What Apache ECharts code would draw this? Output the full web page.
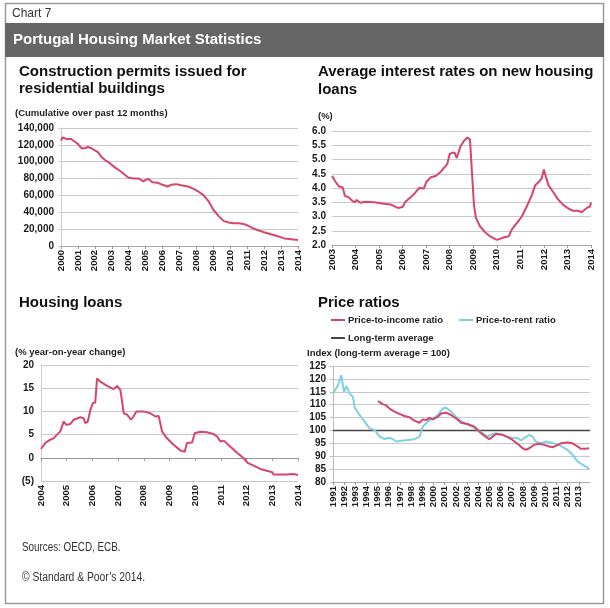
<!DOCTYPE html>
<html>
<head>
<meta charset="utf-8">
<script src="https://cdn.jsdelivr.net/npm/echarts@6/dist/echarts.min.js"></script>
<style>
html,body{margin:0;padding:0;background:#fff;}
#c{width:610px;height:608px;}
</style>
</head>
<body>
<div id="c"></div>
<script>
// ---- Data ----
const permitsYears = [2000.0,2000.1,2000.3,2000.6,2000.8,2001.0,2001.2,2001.4,2001.6,2001.8,2002.0,2002.2,2002.4,2002.6,2002.9,2003.2,2003.5,2003.8,2004.0,2004.3,2004.6,2004.87,2005.0,2005.17,2005.4,2005.7,2006.0,2006.3,2006.5,2006.8,2007.1,2007.5,2007.8,2008.1,2008.4,2008.7,2009.0,2009.3,2009.6,2009.9,2010.2,2010.5,2010.8,2011.0,2011.3,2011.6,2012.0,2012.4,2012.8,2013.2,2013.6,2014.0];
const permitsValues = [125000,129000,127000,127000,124000,121000,116000,116000,117500,116000,113500,111000,105500,102000,98000,93000,89000,84000,81000,80000,80000,76500,78500,79500,75500,75000,72600,70600,72600,73400,72000,70600,68000,64700,60700,53600,43000,35700,29800,27800,27000,27000,26000,24600,21400,19000,16300,14000,11500,9000,8000,7000];

const rateYears = [2003.0,2003.15,2003.3,2003.45,2003.55,2003.7,2003.85,2003.95,2004.05,2004.2,2004.4,2004.8,2005.2,2005.5,2005.8,2006.0,2006.1,2006.3,2006.5,2006.7,2006.9,2007.0,2007.2,2007.4,2007.6,2007.8,2007.9,2008.0,2008.2,2008.3,2008.45,2008.6,2008.75,2008.86,2008.94,2009.03,2009.11,2009.29,2009.5,2009.72,2010.0,2010.35,2010.5,2010.64,2010.78,2010.92,2011.06,2011.27,2011.49,2011.63,2011.77,2011.91,2011.97,2012.0,2012.08,2012.19,2012.4,2012.6,2012.83,2013.04,2013.24,2013.46,2013.6,2013.67,2013.82,2013.96,2014.0];
const rateValues = [4.42,4.22,4.05,4.03,3.72,3.68,3.56,3.5,3.58,3.48,3.52,3.5,3.45,3.42,3.3,3.33,3.5,3.65,3.8,4.0,3.98,4.2,4.38,4.42,4.55,4.75,4.85,5.2,5.25,5.05,5.45,5.65,5.77,5.7,4.6,3.4,2.95,2.65,2.45,2.3,2.18,2.28,2.3,2.55,2.7,2.85,3.0,3.35,3.75,4.1,4.2,4.35,4.3,4.65,4.4,4.1,3.85,3.6,3.4,3.28,3.2,3.2,3.15,3.22,3.3,3.35,3.5];

const loanYears = [2004.0,2004.17,2004.36,2004.49,2004.62,2004.75,2004.88,2004.99,2005.14,2005.27,2005.53,2005.66,2005.72,2005.82,2005.92,2006.02,2006.11,2006.18,2006.31,2006.57,2006.83,2006.96,2007.09,2007.22,2007.35,2007.5,2007.6,2007.71,2007.99,2008.25,2008.45,2008.58,2008.71,2008.9,2009.16,2009.42,2009.59,2009.68,2009.88,2009.98,2010.2,2010.46,2010.72,2010.85,2010.98,2011.11,2011.37,2011.63,2011.89,2012.04,2012.27,2012.53,2012.79,2013.0,2013.05,2013.18,2013.57,2013.83,2014.0];
const loanValues = [1.9,3.2,3.9,4.2,5.0,5.7,7.8,7.1,7.3,8.2,8.75,8.5,7.5,7.8,10.3,11.8,11.9,17.1,16.4,15.5,14.8,15.5,14.6,9.6,9.3,8.2,8.9,10.0,10.0,9.6,8.9,9.0,5.7,4.2,2.8,1.6,1.3,3.2,3.3,5.3,5.6,5.5,5.1,4.6,3.5,3.7,2.4,1.1,-0.1,-1.1,-1.7,-2.4,-2.8,-3.1,-3.6,-3.6,-3.6,-3.5,-3.7];

const rentYears = [1991.0,1991.45,1991.74,1991.98,1992.19,1992.49,1992.79,1992.93,1993.38,1993.83,1994.27,1994.72,1995.17,1995.61,1996.06,1996.36,1996.65,1997.1,1997.7,1998.29,1998.74,1999.04,1999.48,1999.93,2000.38,2000.82,2001.12,2001.57,2002.16,2002.76,2003.35,2003.95,2004.4,2004.84,2005.14,2005.58,2006.18,2006.63,2007.07,2007.52,2007.82,2008.11,2008.56,2008.86,2009.15,2009.6,2010.05,2010.49,2010.94,2011.39,2011.98,2012.43,2012.88,2013.32,2013.62,2013.92];
const rentValues = [114.3,117.5,121.4,115,117.2,114.3,113,109,106,103.4,100.8,100.2,97.6,96.7,97.2,96.6,95.7,96,96.3,96.6,97.6,101.5,103.4,104.7,106,108.5,108.8,107.3,104.7,102.8,101.7,100.2,98.9,97.6,98.3,98.9,98.3,97.6,97.2,97,96.1,97,98.3,97.6,95.7,95,95.7,95.3,94.8,94,92.5,90.6,88,86.7,86,85.1];

const incomeYears = [1995.02,1995.46,1995.76,1996.06,1996.5,1996.95,1997.4,1997.85,1998.29,1998.74,1999.04,1999.33,1999.63,1999.93,2000.38,2000.67,2001.12,2001.57,2002.01,2002.46,2003.05,2003.65,2004.1,2004.54,2004.99,2005.29,2005.58,2006.18,2006.63,2007.07,2007.52,2007.97,2008.26,2008.56,2009.0,2009.45,2009.9,2010.34,2010.64,2010.94,2011.39,2011.98,2012.43,2012.88,2013.17,2013.62,2013.92];
const incomeValues = [111.4,110.2,109.7,108.5,107.3,106.4,105.6,105.1,103.8,103,104.3,104,104.9,104.3,105.3,106.6,106.9,106,104.7,103,102.5,101.5,99.5,97.9,96.6,97.6,98.6,98.3,97.4,96.3,94.8,93.1,92.5,93.1,94.4,94.8,94.4,93.8,93.5,94,95,95.3,95,93.8,92.9,92.9,93.1];

const longTermAverage = 100;
const longTermYears = [1991, 2014];

const seriesNames = ['Price-to-income ratio', 'Price-to-rent ratio', 'Long-term average'];

// ---- Styling ----
const F = 'Arial, "Liberation Sans", sans-serif';
const RED = '#d6456a';
const CYAN = '#7fd0e2';
const GRID = '#c8c8c8';
const LBL = '#1a1a1a';

function pairs(xs, ys) { return xs.map((x, i) => [x, ys[i]]); }

const yLabel = (fmt, margin) => ({ fontSize: 10, fontWeight: 'bold', color: LBL, fontFamily: F, margin: margin, formatter: fmt });
const xLabel = { rotate: 90, fontSize: 9.5, fontWeight: 'bold', color: LBL, fontFamily: F, margin: 4 };
const split = { show: true, lineStyle: { color: GRID, width: 1 } };

function xAx(gi, min, max, extra) {
  return Object.assign({
    type: 'value', gridIndex: gi, min: min, max: max, interval: 1,
    axisLine: { show: true, onZero: false, lineStyle: { color: '#aaa' } },
    axisTick: { show: true, length: 3, lineStyle: { color: '#999' } },
    axisLabel: Object.assign({}, xLabel, { formatter: v => String(Math.round(v)) }),
    splitLine: { show: false }
  }, extra || {});
}

function txt(x, y, text, size, weight, color, extra) {
  return Object.assign({
    type: 'text', x: x, y: y, silent: true,
    style: { text: text, fontSize: size, fontWeight: weight, fontFamily: F, fill: color, align: 'left', verticalAlign: 'middle' }
  }, extra || {});
}

const chart = echarts.init(document.getElementById('c'), null, { renderer: 'canvas' });

const option = {
  backgroundColor: '#fff',
  animation: false,
  graphic: [
    { type: 'rect', shape: { x: 5.5, y: 3.5, width: 598, height: 600 }, style: { fill: 'none', stroke: '#9a9a9a', lineWidth: 1.5 }, silent: true },
    { type: 'rect', shape: { x: 5, y: 23, width: 599, height: 34 }, style: { fill: '#666666' }, silent: true },
    txt(12, 14, 'Chart 7', 12, 'normal', '#333'),
    txt(13, 40, 'Portugal Housing Market Statistics', 15, 'bold', '#ffffff'),
    txt(19, 72, 'Construction permits issued for', 15, 'bold', '#111'),
    txt(19, 89, 'residential buildings', 15, 'bold', '#111'),
    txt(15, 113, '(Cumulative over past 12 months)', 9.5, 'bold', '#222'),
    txt(318, 72, 'Average interest rates on new housing', 15, 'bold', '#111'),
    txt(318, 90, 'loans', 15, 'bold', '#111'),
    txt(318, 116, '(%)', 9.5, 'bold', '#222'),
    txt(19, 303, 'Housing loans', 15, 'bold', '#111'),
    txt(15, 352, '(% year-on-year change)', 9.5, 'bold', '#222'),
    txt(318, 303, 'Price ratios', 15, 'bold', '#111'),
    txt(307, 353, 'Index (long-term average = 100)', 9.5, 'bold', '#222'),
    txt(22, 548, 'Sources: OECD, ECB.', 12, 'normal', '#333', { scaleX: 0.82 }),
    txt(22, 578, '\u00A9 Standard & Poor\u2019s 2014.', 12, 'normal', '#333', { scaleX: 0.86 })
  ],
  legend: [
    { data: [seriesNames[0], seriesNames[1]], left: 331, top: 315, padding: 0, icon: 'rect', itemWidth: 14, itemHeight: 2, itemGap: 16,
      textStyle: { fontSize: 9.5, fontWeight: 'bold', color: '#222', fontFamily: F, padding: [0, 0, 0, -2] } },
    { data: [seriesNames[2]], left: 331, top: 333, padding: 0, icon: 'rect', itemWidth: 14, itemHeight: 2,
      textStyle: { fontSize: 9.5, fontWeight: 'bold', color: '#222', fontFamily: F, padding: [0, 0, 0, -2] } }
  ],
  grid: [
    { left: 61, top: 128, width: 237, height: 118, containLabel: false },
    { left: 332, top: 131, width: 259, height: 114, containLabel: false },
    { left: 41, top: 365, width: 257, height: 116, containLabel: false },
    { left: 333, top: 366, width: 257, height: 116, containLabel: false }
  ],
  xAxis: [
    xAx(0, 2000, 2014),
    xAx(1, 2003, 2014),
    xAx(2, 2004, 2014, { axisLine: { show: false, onZero: false }, axisTick: { show: false } }),
    xAx(2, 2004, 2014, { position: 'top', axisLine: { show: true, onZero: true, lineStyle: { color: '#999' } },
      axisTick: { show: true, inside: true, length: 3, lineStyle: { color: '#999' } }, axisLabel: { show: false } }),
    xAx(3, 1991, 2014, { axisLabel: Object.assign({}, xLabel, { showMaxLabel: false, formatter: v => String(Math.round(v)) }) })
  ],
  yAxis: [
    { type: 'value', gridIndex: 0, min: 0, max: 140000, interval: 20000,
      axisLine: { show: true, lineStyle: { color: '#ccc' } }, axisTick: { show: true, length: 3, lineStyle: { color: '#ccc' } },
      axisLabel: yLabel(v => v.toLocaleString('en-US'), 7), splitLine: split },
    { type: 'value', gridIndex: 1, min: 2, max: 6, interval: 0.5,
      axisLine: { show: false }, axisTick: { show: false },
      axisLabel: yLabel(v => v.toFixed(1), 6), splitLine: split },
    { type: 'value', gridIndex: 2, min: -5, max: 20, interval: 5,
      axisLine: { show: true, lineStyle: { color: '#ccc' } }, axisTick: { show: false },
      axisLabel: yLabel(v => v < 0 ? '(' + (-v) + ')' : String(v), 7), splitLine: split },
    { type: 'value', gridIndex: 3, min: 80, max: 125, interval: 5,
      axisLine: { show: true, lineStyle: { color: '#bbb' } }, axisTick: { show: true, length: 3, lineStyle: { color: '#bbb' } },
      axisLabel: yLabel(v => String(v), 7), splitLine: split }
  ],
  series: [
    { name: 'Construction permits', type: 'line', xAxisIndex: 0, yAxisIndex: 0, data: pairs(permitsYears, permitsValues),
      showSymbol: false, symbol: 'none', lineStyle: { color: RED, width: 2 }, itemStyle: { color: RED } },
    { name: 'Interest rates', type: 'line', xAxisIndex: 1, yAxisIndex: 1, data: pairs(rateYears, rateValues),
      showSymbol: false, symbol: 'none', lineStyle: { color: RED, width: 2 }, itemStyle: { color: RED } },
    { name: 'Housing loans', type: 'line', xAxisIndex: 2, yAxisIndex: 2, data: pairs(loanYears, loanValues),
      showSymbol: false, symbol: 'none', lineStyle: { color: RED, width: 2 }, itemStyle: { color: RED } },
    { name: seriesNames[2], type: 'line', xAxisIndex: 4, yAxisIndex: 3, data: longTermYears.map(x => [x, longTermAverage]),
      showSymbol: false, symbol: 'none', lineStyle: { color: '#444', width: 1.5 }, itemStyle: { color: '#444' }, z: 1 },
    { name: seriesNames[1], type: 'line', xAxisIndex: 4, yAxisIndex: 3, data: pairs(rentYears, rentValues),
      showSymbol: false, symbol: 'none', lineStyle: { color: CYAN, width: 2 }, itemStyle: { color: CYAN }, z: 2 },
    { name: seriesNames[0], type: 'line', xAxisIndex: 4, yAxisIndex: 3, data: pairs(incomeYears, incomeValues),
      showSymbol: false, symbol: 'none', lineStyle: { color: RED, width: 2 }, itemStyle: { color: RED }, z: 3 }
  ]
};

chart.setOption(option);
</script>
</body>
</html>
